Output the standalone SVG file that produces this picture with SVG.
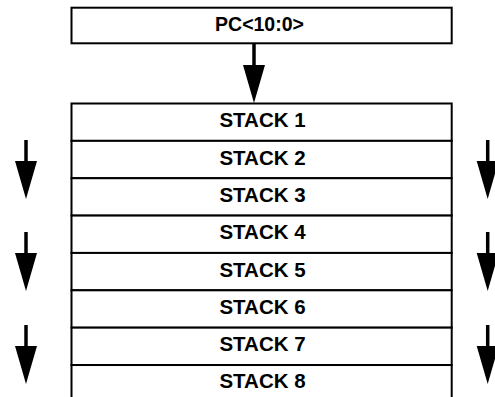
<svg xmlns="http://www.w3.org/2000/svg" xmlns:xlink="http://www.w3.org/1999/xlink" width="495" height="397" viewBox="0 0 495 397">
<style>
.box{fill:#fff;stroke:#000;stroke-width:2}
.lbl{font-family:"Liberation Sans",Arial,sans-serif;font-weight:bold;font-size:20.5px;text-anchor:middle;fill:#000}
.pcl{font-size:19.5px}
.shaft{stroke:#000;stroke-width:3.5;fill:none}
.head{fill:#000;stroke:none}
</style>
<defs>
<path id="ah" class="head" d="M-11,0 L11,0 L0,38 Z"/>
</defs>
<rect width="495" height="397" fill="#fff"/>
<g id="pc">
<rect class="box" x="71.5" y="7.7" width="380.2" height="35.6"/>
<text class="lbl pcl" x="259.5" y="31.3">PC&lt;10:0&gt;</text>
</g>
<g id="stack1"><rect class="box" x="71.5" y="103.5" width="380.2" height="37.36"/><text class="lbl" x="262.5" y="127.3">STACK 1</text></g>
<g id="stack2"><rect class="box" x="71.5" y="140.86" width="380.2" height="37.36"/><text class="lbl" x="262.5" y="164.5">STACK 2</text></g>
<g id="stack3"><rect class="box" x="71.5" y="178.22" width="380.2" height="37.36"/><text class="lbl" x="262.5" y="201.9">STACK 3</text></g>
<g id="stack4"><rect class="box" x="71.5" y="215.58" width="380.2" height="37.36"/><text class="lbl" x="262.5" y="239.2">STACK 4</text></g>
<g id="stack5"><rect class="box" x="71.5" y="252.94" width="380.2" height="37.36"/><text class="lbl" x="262.5" y="276.5">STACK 5</text></g>
<g id="stack6"><rect class="box" x="71.5" y="290.3" width="380.2" height="37.36"/><text class="lbl" x="262.5" y="313.9">STACK 6</text></g>
<g id="stack7"><rect class="box" x="71.5" y="327.66" width="380.2" height="37.36"/><text class="lbl" x="262.5" y="351.2">STACK 7</text></g>
<g id="stack8"><rect class="box" x="71.5" y="365.02" width="380.2" height="37.36"/><text class="lbl" x="262.5" y="388.4">STACK 8</text></g>
<g id="connectors">
<line class="shaft" x1="254" y1="43" x2="254" y2="67"/>
<use xlink:href="#ah" x="254" y="65"/>
<line class="shaft" x1="26" y1="140" x2="26" y2="163"/>
<use xlink:href="#ah" x="26" y="161"/>
<line class="shaft" x1="26" y1="232" x2="26" y2="255"/>
<use xlink:href="#ah" x="26" y="253"/>
<line class="shaft" x1="26" y1="325" x2="26" y2="348"/>
<use xlink:href="#ah" x="26" y="346"/>
<line class="shaft" x1="487.7" y1="140" x2="487.7" y2="163"/>
<use xlink:href="#ah" x="487.7" y="161"/>
<line class="shaft" x1="487.7" y1="232" x2="487.7" y2="255"/>
<use xlink:href="#ah" x="487.7" y="253"/>
<line class="shaft" x1="487.7" y1="325" x2="487.7" y2="348"/>
<use xlink:href="#ah" x="487.7" y="346"/>
</g>
</svg>
